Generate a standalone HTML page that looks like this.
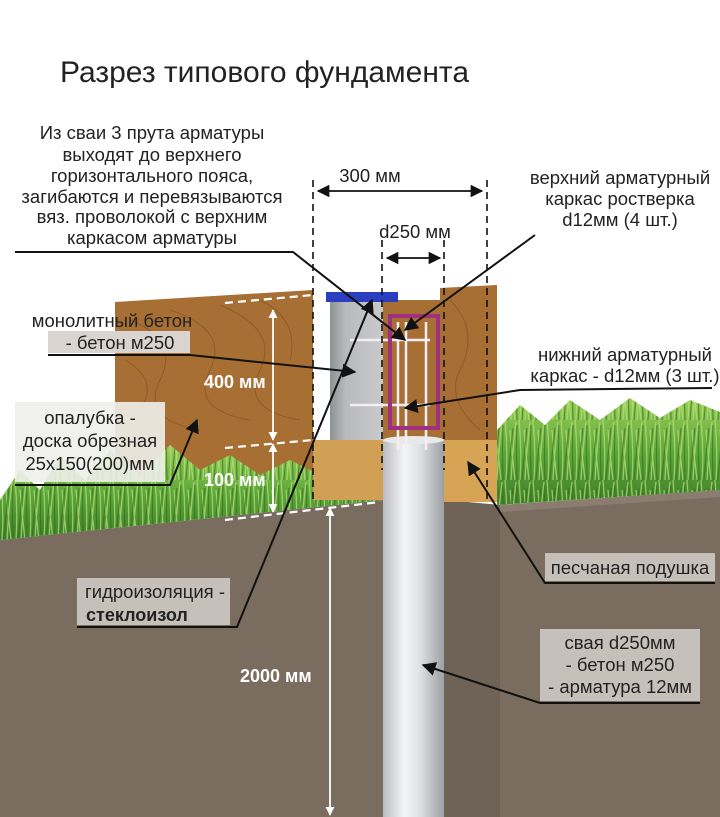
<!DOCTYPE html>
<html><head><meta charset="utf-8"><style>
html,body{margin:0;padding:0;background:#fff}
svg{display:block}
text{font-family:"Liberation Sans",sans-serif}
</style></head><body>
<svg width="720" height="817" viewBox="0 0 720 817" xmlns="http://www.w3.org/2000/svg">
<defs>
<linearGradient id="pile" x1="0" x2="1" y1="0" y2="0">
<stop offset="0" stop-color="#b9bcbf"/><stop offset="0.35" stop-color="#f4f5f6"/><stop offset="0.6" stop-color="#dfe1e3"/><stop offset="1" stop-color="#9da1a5"/></linearGradient>
<linearGradient id="conc" x1="0" x2="1"><stop offset="0" stop-color="#8e9194"/><stop offset="0.3" stop-color="#b8babb"/><stop offset="1" stop-color="#c9cacb"/></linearGradient>
<linearGradient id="grass" x1="0" x2="0" y1="0" y2="1"><stop offset="0" stop-color="#9ccf5a"/><stop offset="0.5" stop-color="#5ea83a"/><stop offset="1" stop-color="#3f7f2a"/></linearGradient>
<pattern id="blades" width="14" height="60" patternUnits="userSpaceOnUse">
<path d="M2 60 Q4 30 1 0 M7 60 Q9 25 12 2 M11 60 Q8 35 6 10" stroke="#b8e27a" stroke-width="1.3" fill="none" opacity="0.7"/>
<path d="M4 60 Q6 35 9 8 M13 60 Q12 30 13 5" stroke="#2f6a20" stroke-width="1.2" fill="none" opacity="0.6"/>
</pattern>
<marker id="ah" viewBox="0 0 10 10" refX="9" refY="5" markerWidth="7" markerHeight="7" orient="auto-start-reverse"><path d="M0 0L10 5L0 10z" fill="#111"/></marker>
<marker id="wh" viewBox="0 0 10 10" refX="9" refY="5" markerWidth="5" markerHeight="5" orient="auto-start-reverse"><path d="M0 0L10 5L0 10z" fill="#fff"/></marker>
</defs>

<text x="60" y="82" font-size="30" fill="#222">Разрез типового фундамента</text>

<!-- ground -->
<polygon points="0,540 383,500 444,500 500,505 720,490 720,817 0,817" fill="#7a6c5f"/>
<polygon points="444,500 500,505 500,817 444,817" fill="#6f6256"/>
<polygon points="500,505 720,490 720,497 500,512" fill="#8a7c6f"/>

<!-- left board -->
<polygon points="115,302 313,290 313,500 115,485" fill="#a86f35"/>
<g stroke="#7d4e22" stroke-width="1" fill="none" opacity="0.6">
<path d="M130 320 Q180 340 160 380 Q140 420 200 430"/>
<path d="M170 310 Q230 330 210 370 Q190 410 250 420"/>
<path d="M220 305 Q280 330 260 370 Q240 410 300 420"/>
<path d="M125 360 Q160 380 140 410"/>
<path d="M260 300 Q300 320 290 360"/>
</g>
<!-- left grass -->
<polygon points="0,500 20,470 40,490 60,455 85,480 110,450 140,475 170,445 200,470 230,455 260,475 290,460 320,475 335,495 383,500 0,540" fill="url(#grass)"/>
<polygon points="0,500 20,470 40,490 60,455 85,480 110,450 140,475 170,445 200,470 230,455 260,475 290,460 320,475 335,495 383,500 0,540" fill="url(#blades)"/>
<!-- right grass -->
<polygon points="497,430 520,405 545,425 570,400 600,420 630,398 660,418 690,400 720,412 720,490 497,505" fill="url(#grass)"/>
<polygon points="497,430 520,405 545,425 570,400 600,420 630,398 660,418 690,400 720,412 720,490 497,505" fill="url(#blades)"/>

<!-- right board -->
<polygon points="440,288 497,285 497,500 440,500" fill="#a86f35"/>
<path d="M450 300 Q480 330 460 370 Q445 400 480 430" stroke="#7d4e22" fill="none" opacity="0.6"/>

<rect x="313" y="440" width="70" height="60" fill="#d2a054"/>
<rect x="444" y="440" width="53" height="62" fill="#d7a456"/>
<rect x="330" y="300" width="53" height="140" fill="url(#conc)"/>
<rect x="383" y="300" width="57" height="140" fill="#a86f35"/>
<rect x="326" y="292" width="72" height="10" fill="#2a3fc0"/>

<rect x="383" y="440" width="61" height="377" fill="url(#pile)"/>
<ellipse cx="413.5" cy="440" rx="30.5" ry="4" fill="#e8e9ea"/>

<g stroke="#f4eef4" stroke-width="2.5">
<line x1="398" y1="322" x2="398" y2="450"/><line x1="406" y1="322" x2="406" y2="450"/><line x1="426" y1="322" x2="426" y2="450"/>
<line x1="350" y1="340" x2="430" y2="340"/><line x1="350" y1="405" x2="430" y2="405"/>
</g>
<rect x="390" y="316" width="48" height="112" fill="none" stroke="#a0307e" stroke-width="4"/>

<g stroke="#111" stroke-width="1.6" stroke-dasharray="7,5">
<line x1="313" y1="180" x2="313" y2="500"/>
<line x1="487" y1="180" x2="487" y2="500"/>
<line x1="382" y1="240" x2="382" y2="470"/>
<line x1="444" y1="240" x2="444" y2="470"/>
</g>
<line x1="318" y1="191" x2="482" y2="191" stroke="#111" stroke-width="1.8" marker-start="url(#ah)" marker-end="url(#ah)"/>
<line x1="387" y1="258" x2="440" y2="258" stroke="#111" stroke-width="1.8" marker-start="url(#ah)" marker-end="url(#ah)"/>

<g stroke="#fff" stroke-width="2.2" stroke-dasharray="8,5">
<line x1="225" y1="303" x2="313" y2="295"/>
<line x1="225" y1="448" x2="313" y2="440"/>
<line x1="225" y1="520" x2="380" y2="502"/>
</g>
<g stroke="#fff" stroke-width="1.8">
<line x1="273" y1="310" x2="273" y2="440" marker-start="url(#wh)" marker-end="url(#wh)"/>
<line x1="273" y1="444" x2="273" y2="512" marker-start="url(#wh)" marker-end="url(#wh)"/>
<line x1="330" y1="508" x2="330" y2="815" marker-start="url(#wh)" marker-end="url(#wh)"/>
</g>
<g fill="#fff" font-weight="bold" font-size="18">
<text x="204" y="388">400 мм</text>
<text x="204" y="486">100 мм</text>
<text x="240" y="682">2000 мм</text>
</g>

<g font-size="18.5" fill="#222" text-anchor="middle">
<text x="152" y="139">Из сваи 3 прута арматуры</text>
<text x="152" y="161">выходят до верхнего</text>
<text x="152" y="182">горизонтального пояса,</text>
<text x="152" y="203">загибаются и перевязываются</text>
<text x="152" y="223">вяз. проволокой с верхним</text>
<text x="152" y="244">каркасом арматуры</text>
<text x="370" y="182">300 мм</text>
<text x="415" y="238">d250 мм</text>
<text x="620" y="184">верхний арматурный</text>
<text x="620" y="205">каркас ростверка</text>
<text x="620" y="226">d12мм (4 шт.)</text>
<text x="625" y="361">нижний арматурный</text>
<text x="625" y="382">каркас - d12мм (3 шт.)</text>
</g>

<rect x="48" y="331" width="142" height="22" fill="#d9d4cf"/>
<rect x="15" y="402" width="150" height="80" fill="#eef0ea" opacity="0.9"/>
<rect x="77" y="578" width="153" height="47" fill="#c6c0bb"/>
<rect x="545" y="553" width="170" height="28" fill="#c6c0bb"/>
<rect x="540" y="629" width="160" height="72" fill="#c6c0bb"/>
<g font-size="18.5" fill="#222" text-anchor="middle">
<text x="112" y="327">монолитный бетон</text>
<text x="120" y="349">- бетон м250</text>
<text x="90" y="424">опалубка -</text>
<text x="90" y="447">доска обрезная</text>
<text x="90" y="470">25х150(200)мм</text>
<text x="155" y="598">гидроизоляция -</text>
<text x="630" y="574">песчаная подушка</text>
<text x="620" y="649">свая d250мм</text>
<text x="620" y="671">- бетон м250</text>
<text x="620" y="693">- арматура 12мм</text>
</g>
<text x="86" y="621" font-size="18" font-weight="bold" fill="#222">стеклоизол</text>

<g stroke="#111" stroke-width="2" fill="none">
<polyline points="15,252 293,252 405,340" marker-end="url(#ah)"/>
<polyline points="535,235 405,330" marker-end="url(#ah)"/>
<polyline points="48,355 190,355 355,372" marker-end="url(#ah)"/>
<polyline points="15,485 170,485 197,420" marker-end="url(#ah)"/>
<polyline points="712,388 520,390 405,408" marker-end="url(#ah)"/>
<polyline points="77,627 237,627 372,300" marker-end="url(#ah)"/>
<polyline points="715,583 545,583 468,462" marker-end="url(#ah)"/>
<polyline points="700,703 540,703 423,665" marker-end="url(#ah)"/>
</g>
</svg>
</body></html>
